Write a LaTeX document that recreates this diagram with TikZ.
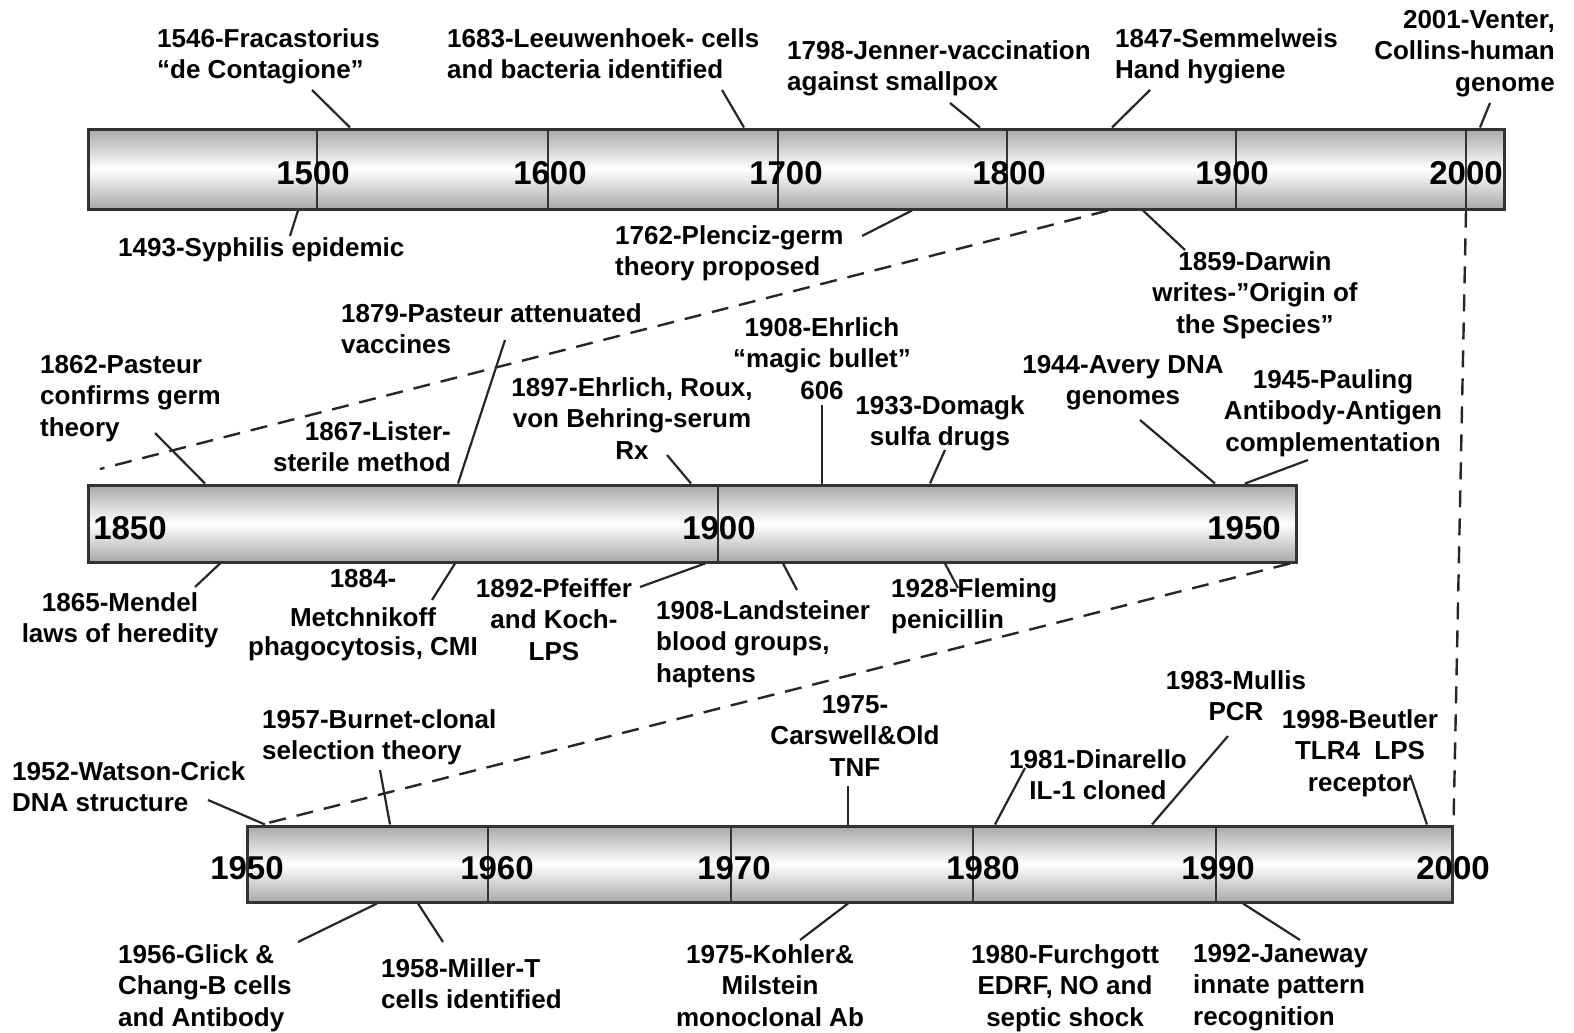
\documentclass[tikz,border=0pt]{standalone}
\usepackage{fontspec}
\setmainfont{Liberation Sans}
\usepackage{tikz}
\usetikzlibrary{positioning}

\tikzset{
  era/.style={draw=black!80, line width=3pt, top color=black!34, bottom color=black!34,
    middle color=white, inner sep=0pt},
  yr/.style={font=\bfseries\fontsize{33}{36}\selectfont, inner sep=0pt},
  lbl/.style={font=\bfseries\fontsize{26}{31.5}\selectfont, inner sep=0pt},
  lead/.style={line width=2.2pt, draw=black!85},
  tick/.style={line width=1.3pt, draw=black!80},
  link/.style={line width=2.4pt, draw=black!85, dash pattern=on 17pt off 11pt}
}

\begin{document}
\begin{tikzpicture}[x=1pt, y=-1pt]
    \useasboundingbox (0,0) rectangle (1574,1033);

    % the three bars
    \node[era, minimum width=1416, minimum height=80] (bar1) at (796,169) {};
    \node[era, minimum width=1208, minimum height=77] (bar2) at (692,523.5) {};
    \node[era, minimum width=1205, minimum height=76] (bar3) at (849.5,864) {};

    % century / decade marks
    \draw[tick] (317,0 |- bar1.north) -- (317,0 |- bar1.south);
    \draw[tick] (548,0 |- bar1.north) -- (548,0 |- bar1.south);
    \draw[tick] (778,0 |- bar1.north) -- (778,0 |- bar1.south);
    \draw[tick] (1007,0 |- bar1.north) -- (1007,0 |- bar1.south);
    \draw[tick] (1236,0 |- bar1.north) -- (1236,0 |- bar1.south);
    \draw[tick] (1466,0 |- bar1.north) -- (1466,0 |- bar1.south);
    \draw[tick] (718,0 |- bar2.north) -- (718,0 |- bar2.south);
    \draw[tick] (488,0 |- bar3.north) -- (488,0 |- bar3.south);
    \draw[tick] (731,0 |- bar3.north) -- (731,0 |- bar3.south);
    \draw[tick] (973,0 |- bar3.north) -- (973,0 |- bar3.south);
    \draw[tick] (1216,0 |- bar3.north) -- (1216,0 |- bar3.south);

    \node[yr] (y1500) at (313,173) {1500};
    \node[yr] (y1600) at (550,173) {1600};
    \node[yr] (y1700) at (786,173) {1700};
    \node[yr] (y1800) at (1009,173) {1800};
    \node[yr] (y1900) at (1232,173) {1900};
    \node[yr] (y2000) at (1466,173) {2000};
    \node[yr] (y1850) at (130,528) {1850};
    \node[yr] (y1900b) at (719,528) {1900};
    \node[yr] (y1950) at (1244,528) {1950};
    \node[yr] (y1950b) at (247,868) {1950};
    \node[yr] (y1960) at (497,868) {1960};
    \node[yr] (y1970) at (734,868) {1970};
    \node[yr] (y1980) at (983,868) {1980};
    \node[yr] (y1990) at (1218,868) {1990};
    \node[yr] (y2000b) at (1453,868) {2000};

    % zoom links
    \coordinate (z1) at (100,469);
    \draw[link] (1108,0 |- bar1.south) -- (z1);
    \draw[link] (1466,0 |- bar1.south) -- (bar3.north east);
    \draw[link] (1290,0 |- bar2.south) -- (262,0 |- bar3.north);

    % 1400-2000
    \node[lbl, anchor=north west, align=left] (l1546) at (157,28) {1546-Fracastorius\\“de Contagione”};
    \node[lbl, anchor=north west, align=left] (l1683) at (447,28) {1683-Leeuwenhoek- cells\\and bacteria identified};
    \node[lbl, anchor=north west, align=left] (l1798) at (787,40) {1798-Jenner-vaccination\\against smallpox};
    \node[lbl, anchor=north west, align=left] (l1847) at (1115,28) {1847-Semmelweis\\Hand hygiene};
    \node[lbl, anchor=north east, align=right] (l2001) at (1555,10) {2001-Venter,\\Collins-human\\genome};
    \node[lbl, anchor=north west, align=left] (l1493) at (118,237) {1493-Syphilis epidemic};
    \node[lbl, anchor=north west, align=left] (l1762) at (615,225) {1762-Plenciz-germ\\theory proposed};
    \node[lbl, anchor=north, align=center] (l1859) at (1255,251) {1859-Darwin\\writes-”Origin of\\the Species”};

    \draw[lead] (350,0 |- bar1.north) -- (312,90) coordinate (e1546);
    \draw[lead] (744,0 |- bar1.north) -- (722,90) coordinate (e1683);
    \draw[lead] (980,0 |- bar1.north) -- (950,103) coordinate (e1798);
    \draw[lead] (1112,0 |- bar1.north) -- (1150,90) coordinate (e1847);
    \draw[lead] (1480,0 |- bar1.north) -- (1490,103) coordinate (e2001);
    \draw[lead] (298,0 |- bar1.south) -- (290,236) coordinate (e1493);
    \draw[lead] (912,0 |- bar1.south) -- (862,236) coordinate (e1762);
    \draw[lead] (1143,0 |- bar1.south) -- (1185,250) coordinate (e1859);

    % 1850-1950
    \node[lbl, anchor=north west, align=left] (l1862) at (40,355) {1862-Pasteur\\confirms germ\\theory};
    \node[lbl, anchor=north west, align=left] (l1879) at (341,303) {1879-Pasteur attenuated\\vaccines};
    \node[lbl, anchor=north east, align=right] (l1867) at (451,421) {1867-Lister-\\sterile method};
    \node[lbl, anchor=north, align=center] (l1897) at (632,377) {1897-Ehrlich, Roux,\\von Behring-serum\\Rx};
    \node[lbl, anchor=north, align=center] (l1908e) at (822,317) {1908-Ehrlich\\“magic bullet”\\606};
    \node[lbl, anchor=north, align=center] (l1933) at (940,395) {1933-Domagk\\sulfa drugs};
    \node[lbl, anchor=north, align=center] (l1944) at (1123,355) {1944-Avery DNA\\genomes};
    \node[lbl, anchor=north, align=center] (l1945) at (1333,369) {1945-Pauling\\Antibody-Antigen\\complementation};
    \node[lbl, anchor=north, align=center] (l1865) at (120,592) {1865-Mendel\\laws of heredity};
    \node[lbl, anchor=north, align=center] (l1884) at (363,569) {1884-\\[8pt]Metchnikoff\\[-3pt]phagocytosis, CMI};
    \node[lbl, anchor=north, align=center] (l1892) at (554,578) {1892-Pfeiffer\\and Koch-\\LPS};
    \node[lbl, anchor=north west, align=left] (l1908l) at (656,600) {1908-Landsteiner\\blood groups,\\haptens};
    \node[lbl, anchor=north west, align=left] (l1928) at (891,578) {1928-Fleming\\penicillin};

    \draw[lead] (205,0 |- bar2.north) -- (155,433) coordinate (e1862);
    \draw[lead] (458,0 |- bar2.north) -- (505,340) coordinate (e1879);
    \draw[lead] (691,0 |- bar2.north) -- (667,455) coordinate (e1897);
    \draw[lead] (822,0 |- bar2.north) -- (822,405) coordinate (e1908e);
    \draw[lead] (930,0 |- bar2.north) -- (945,450) coordinate (e1933);
    \draw[lead] (1215,0 |- bar2.north) -- (1140,420) coordinate (e1944);
    \draw[lead] (1245,0 |- bar2.north) -- (1308,460) coordinate (e1945);
    \draw[lead] (220,0 |- bar2.south) -- (195,587) coordinate (e1865);
    \draw[lead] (455,0 |- bar2.south) -- (432,600) coordinate (e1884);
    \draw[lead] (705,0 |- bar2.south) -- (640,587) coordinate (e1892);
    \draw[lead] (783,0 |- bar2.south) -- (797,590) coordinate (e1908l);
    \draw[lead] (945,0 |- bar2.south) -- (958,588) coordinate (e1928);

    % 1950-2000
    \node[lbl, anchor=north west, align=left] (l1952) at (12,761) {1952-Watson-Crick\\DNA structure};
    \node[lbl, anchor=north west, align=left] (l1957) at (262,709) {1957-Burnet-clonal\\selection theory};
    \node[lbl, anchor=north, align=center] (l1975c) at (855,695) {1975-\\Carswell\&Old\\TNF};
    \node[lbl, anchor=north, align=center] (l1981) at (1098,749) {1981-Dinarello\\IL-1 cloned};
    \node[lbl, anchor=north, align=center] (l1983) at (1236,670) {1983-Mullis\\PCR};
    \node[lbl, anchor=north, align=center] (l1998) at (1360,709) {1998-Beutler\\TLR4~~LPS\\receptor};
    \node[lbl, anchor=north west, align=left] (l1956) at (118,944) {1956-Glick \&\\Chang-B cells\\and Antibody};
    \node[lbl, anchor=north west, align=left] (l1958) at (381,958) {1958-Miller-T\\cells identified};
    \node[lbl, anchor=north, align=center] (l1975k) at (770,944) {1975-Kohler\&\\Milstein\\monoclonal Ab};
    \node[lbl, anchor=north, align=center] (l1980) at (1065,944) {1980-Furchgott\\EDRF, NO and\\septic shock};
    \node[lbl, anchor=north west, align=left] (l1992) at (1193,944) {1992-Janeway\\innate pattern\\recognition};

    \draw[lead] (265,0 |- bar3.north) -- (208,800) coordinate (e1952);
    \draw[lead] (390,0 |- bar3.north) -- (380,770) coordinate (e1957);
    \draw[lead] (848,0 |- bar3.north) -- (848,786) coordinate (e1975c);
    \draw[lead] (995,0 |- bar3.north) -- (1025,768) coordinate (e1981);
    \draw[lead] (1152,0 |- bar3.north) -- (1228,736) coordinate (e1983);
    \draw[lead] (1427,0 |- bar3.north) -- (1410,775) coordinate (e1998);
    \draw[lead] (377,0 |- bar3.south) -- (298,942) coordinate (e1956);
    \draw[lead] (418,0 |- bar3.south) -- (443,942) coordinate (e1958);
    \draw[lead] (848,0 |- bar3.south) -- (800,940) coordinate (e1975k);
    \draw[lead] (1243,0 |- bar3.south) -- (1300,940) coordinate (e1992);
\end{tikzpicture}
\end{document}
